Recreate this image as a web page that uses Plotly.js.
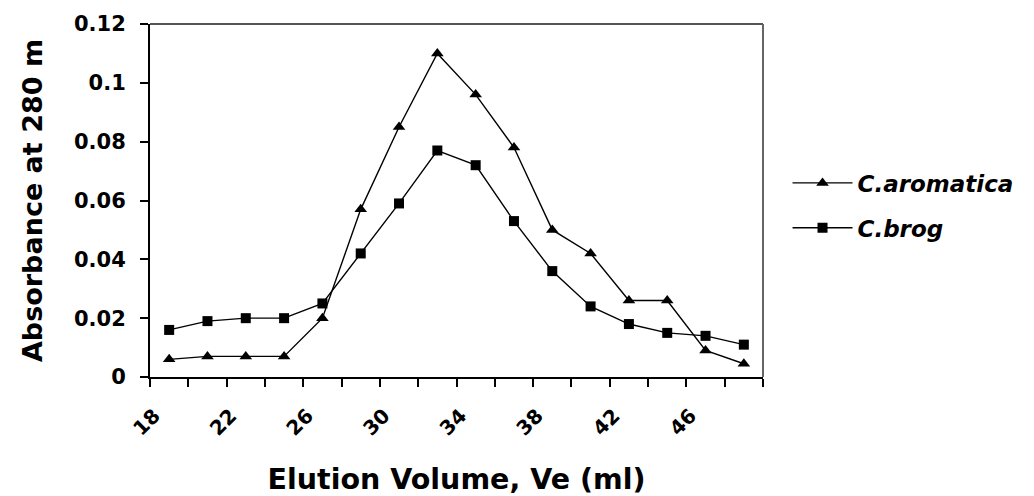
<!DOCTYPE html>
<html>
<head>
<meta charset="utf-8">
<script src="https://cdn.plot.ly/plotly-3.0.1.min.js"></script>
<style>html,body{margin:0;padding:0;background:#fff;}#chart{width:1034px;height:496px;}</style>
</head>
<body>
<div id="chart"></div>
<script>
// Elution volume (ml) for each fraction
const elutionVolume = [18, 20, 22, 24, 26, 28, 30, 32, 34, 36, 38, 40, 42, 44, 46, 48];
// Absorbance at 280 nm
const cAromatica = [0.006, 0.007, 0.007, 0.007, 0.020, 0.057, 0.085, 0.110, 0.096, 0.078, 0.050, 0.042, 0.026, 0.026, 0.009, 0.0045];
const cBrog      = [0.016, 0.019, 0.020, 0.020, 0.025, 0.042, 0.059, 0.077, 0.072, 0.053, 0.036, 0.024, 0.018, 0.015, 0.014, 0.011];
const seriesNames = ["C.aromatica", "C.brog"];
const xTickVals = [18, 22, 26, 30, 34, 38, 42, 46];
const xTickText = ["18", "22", "26", "30", "34", "38", "42", "46"];

const FONT = "DejaVu Sans, Verdana, sans-serif";
const xRange = [17, 49];

const traces = [
  {
    x: elutionVolume, y: cAromatica, name: seriesNames[0], type: "scatter", mode: "lines+markers",
    legendgroup: "a",
    line: {color: "#000", width: 1.4},
    marker: {symbol: "triangle-up", size: 11, color: "#000"},
    xaxis: "x", yaxis: "y"
  },
  {
    x: elutionVolume, y: cBrog, name: seriesNames[1], type: "scatter", mode: "lines+markers",
    legendgroup: "b",
    line: {color: "#000", width: 1.4},
    marker: {symbol: "square", size: 10, color: "#000"},
    xaxis: "x2", yaxis: "y"
  }
];

const layout = {
  width: 1034, height: 496,
  margin: {l: 150, r: 271, t: 24, b: 119},
  paper_bgcolor: "#fff", plot_bgcolor: "#fff",
  font: {family: FONT, color: "#000"},
  showlegend: true,
  legend: {
    x: 1.04, y: 0.486, xanchor: "left", yanchor: "middle",
    traceorder: "grouped", tracegroupgap: 12, itemwidth: 60,
    font: {family: FONT, size: 23, color: "#000", weight: "bold", style: "italic"},
    bgcolor: "rgba(0,0,0,0)"
  },
  xaxis: {
    range: xRange, tickmode: "linear", tick0: 17, dtick: 2,
    ticks: "outside", ticklen: 8, tickwidth: 2, tickcolor: "#000",
    showticklabels: false, showgrid: false, zeroline: false,
    showline: true, linecolor: "#000", linewidth: 2,
    anchor: "y",
    title: {text: "Elution Volume, Ve (ml)", font: {family: FONT, size: 28.5, weight: "bold"}, standoff: 84}
  },
  xaxis2: {
    range: xRange, overlaying: "x", anchor: "y", side: "bottom",
    tickmode: "array", tickvals: xTickVals, ticktext: xTickText,
    ticks: "outside", ticklen: 8, tickcolor: "rgba(0,0,0,0)",
    tickangle: -45, ticklabelshift: -15, ticklabelstandoff: 10,
    tickfont: {family: FONT, size: 20, weight: "bold"},
    showgrid: false, zeroline: false, showline: false
  },
  yaxis: {
    range: [0, 0.12], tickmode: "linear", tick0: 0, dtick: 0.02,
    ticks: "outside", ticklen: 8, tickwidth: 2, tickcolor: "#000",
    ticklabelstandoff: 10,
    tickfont: {family: FONT, size: 21, weight: "bold"},
    showgrid: false, zeroline: false,
    showline: true, linecolor: "#000", linewidth: 2,
    title: {text: "Absorbance at 280 m", font: {family: FONT, size: 27, weight: "bold"}, standoff: 24}
  },
  shapes: [
    {type: "line", xref: "paper", yref: "paper", x0: 0, x1: 1, y0: 1, y1: 1, line: {color: "#555", width: 2}},
    {type: "line", xref: "paper", yref: "paper", x0: 1, x1: 1, y0: 0, y1: 1, line: {color: "#666", width: 2}}
  ]
};

Plotly.newPlot("chart", traces, layout, {displayModeBar: false, staticPlot: true});
</script>
</body>
</html>
